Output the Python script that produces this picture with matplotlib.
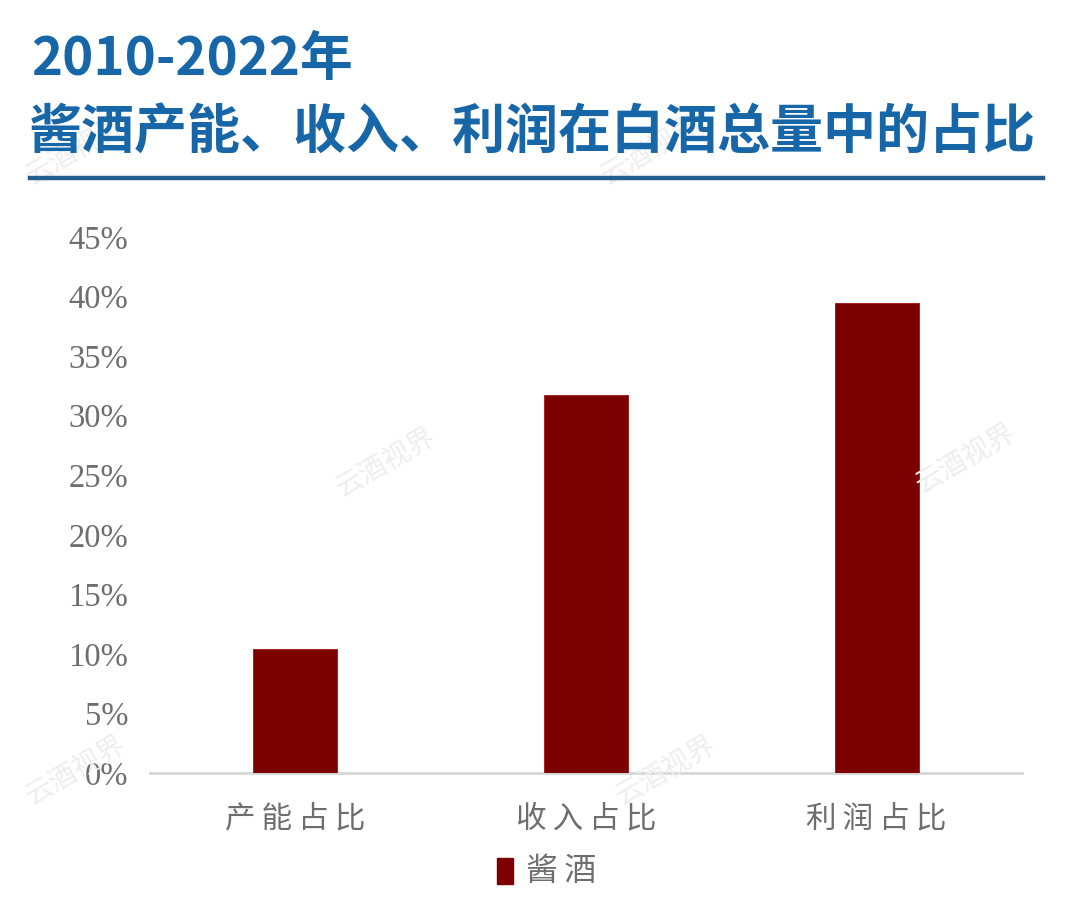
import matplotlib
matplotlib.use("Agg")
import matplotlib.pyplot as plt
from matplotlib.lines import Line2D
from matplotlib.patches import Rectangle

plt.rcParams['font.family'] = ['Noto Sans CJK SC', 'DejaVu Sans']

categories = ["产能占比", "收入占比", "利润占比"]
values = [0.104, 0.317, 0.395]
yticks = [0, 0.05, 0.10, 0.15, 0.20, 0.25, 0.30, 0.35, 0.40, 0.45]
ytick_labels = ["0%", "5%", "10%", "15%", "20%", "25%", "30%", "35%", "40%", "45%"]
series_name = "酱酒"

bar_color = "#7d0000"
title_color = "#1766a8"
label_gray = "#6e6e6e"


def spaced(s):
    # loose letter spacing like the original
    return "\u2009".join(s)


fig = plt.figure(figsize=(10.8, 9.13), dpi=100)
W, H = 1080, 913

# title block
fig.text(31 / W, 1 - 60 / H, "2010-2022年", fontsize=38, fontweight="bold",
         color=title_color, va="center", ha="left")
fig.text(29 / W, 1 - 133 / H, "酱酒产能、收入、利润在白酒总量中的占比", fontsize=38.2,
         fontweight="bold", color=title_color, va="center", ha="left")
fig.add_artist(Line2D([30 / W, 1043 / W], [1 - 178 / H, 1 - 178 / H],
                      color="#255d8e", linewidth=3.2, transform=fig.transFigure))

ax = fig.add_axes([150 / W, 1 - 773 / H, (1022 - 150) / W, (773 - 237) / H])
x = range(len(categories))
ax.bar(x, values, width=0.29, color=bar_color, edgecolor="#a01010", linewidth=0.6, zorder=3)
ax.set_xlim(-0.5, 2.5)
ax.set_ylim(0, 0.45)
ax.set_yticks(yticks)
ax.set_yticklabels(ytick_labels, family=["Liberation Serif"], fontsize=23.5, color=label_gray)
ax.set_xticks(list(x))
ax.set_xticklabels([spaced(c) for c in categories], fontsize=22, color=label_gray,
                   fontweight="light")
ax.tick_params(axis="both", length=0)
ax.tick_params(axis="y", pad=15.5)
ax.tick_params(axis="x", pad=22)
for s in ["top", "right", "left"]:
    ax.spines[s].set_visible(False)
ax.spines["bottom"].set_color("#d6d6d6")
ax.spines["bottom"].set_linewidth(2)

# legend
fig.add_artist(Rectangle((497 / W, 1 - 884 / H), 16 / W, 26 / H, color=bar_color,
                         transform=fig.transFigure))
fig.text(526 / W, 1 - 871 / H, spaced(series_name), fontsize=23, color=label_gray,
         va="center", ha="left", fontweight="light")

# faint watermarks
for wx, wy in [(75, 150), (650, 150), (385, 462), (965, 458), (75, 770), (665, 770)]:
    fig.text(wx / W, 1 - wy / H, "云酒视界", fontsize=20, color="#eeeeee",
             rotation=30, ha="center", va="center", zorder=0)

fig.savefig("out.png", dpi=100, facecolor="white")
